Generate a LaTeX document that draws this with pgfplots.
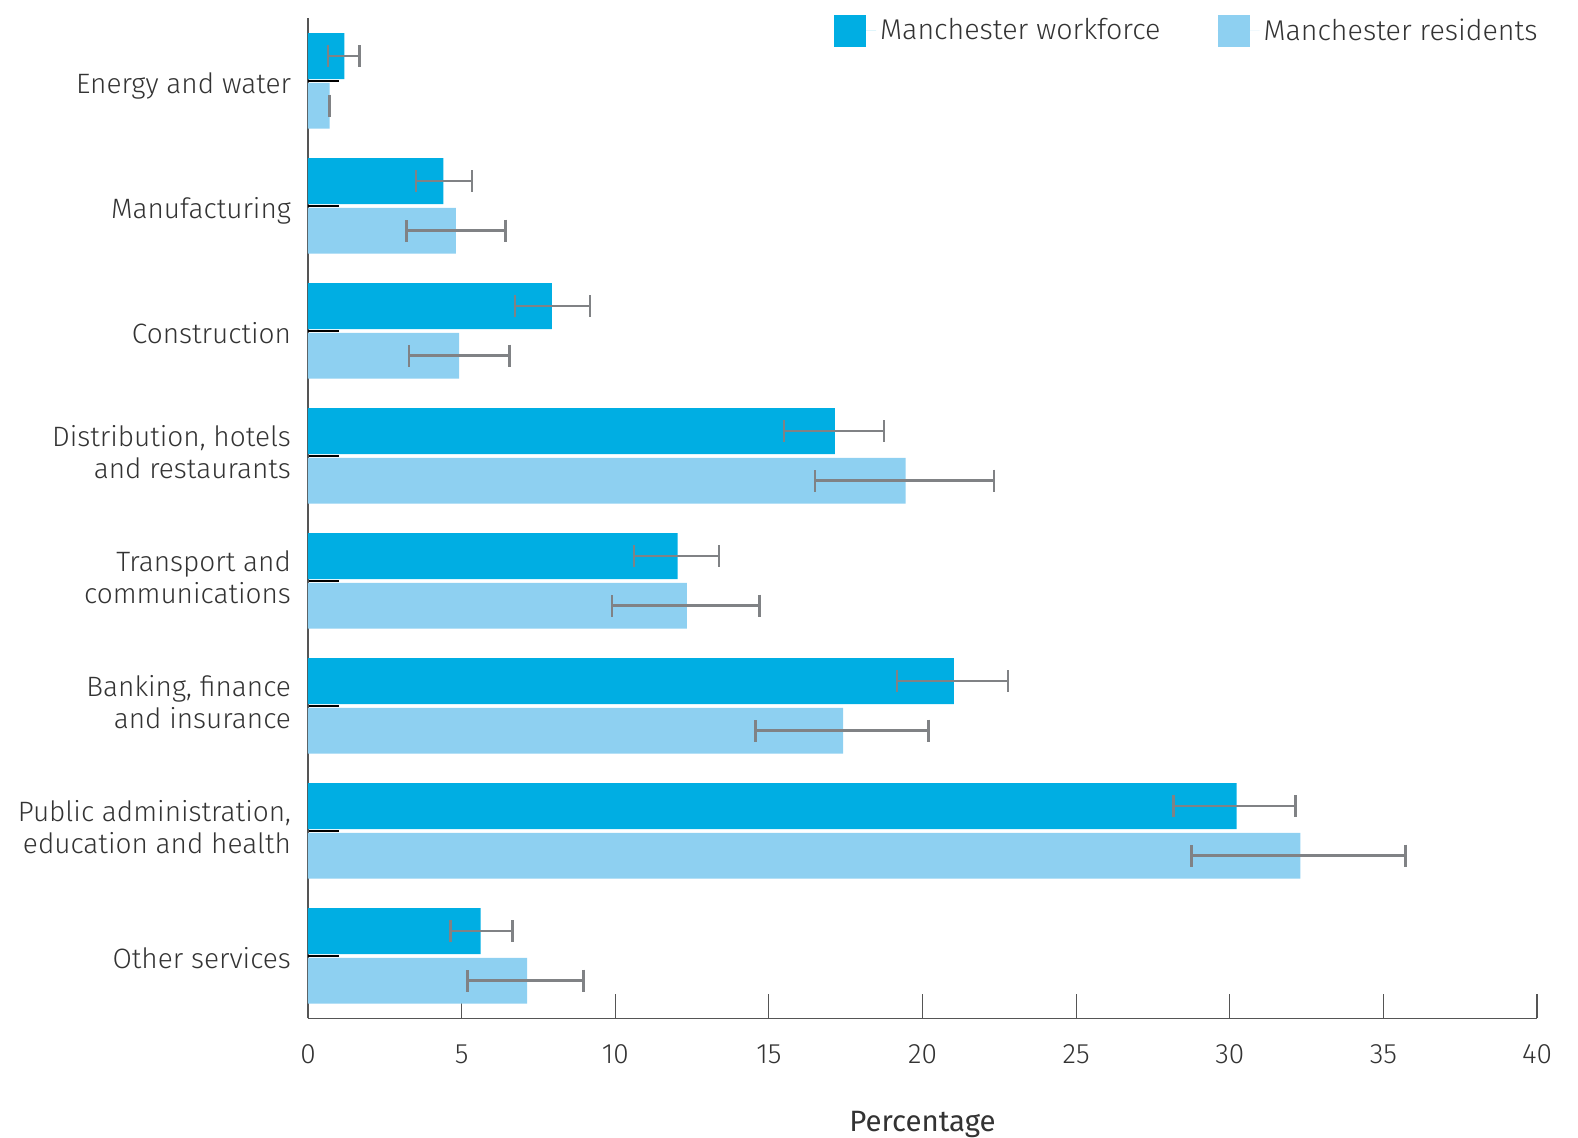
\documentclass[border=0pt]{standalone}
\usepackage{pgfplots}
\usepackage{pgfplotstable}
\pgfplotsset{compat=1.18}
\usepackage{fontspec}
\setmainfont{Fira Sans}[UprightFont=* Light]
\newfontfamily\regfont{Fira Sans}
\definecolor{work}{RGB}{0,174,227}
\definecolor{resi}{RGB}{142,208,241}
\definecolor{errc}{RGB}{128,130,133}
\definecolor{axc}{RGB}{85,85,85}
\definecolor{txt}{RGB}{51,51,51}
\pgfplotstableread{
x y em ep
1.18 0 0.52 0.50
4.41 1 0.90 0.92
7.94 2 1.20 1.24
17.15 3 1.66 1.60
12.03 4 1.42 1.34
21.02 5 1.85 1.76
30.22 6 2.05 1.92
5.62 7 0.98 1.03
}\work
\pgfplotstableread{
x y em ep
0.70 0 0.01 0.01
4.81 1 1.60 1.62
4.92 2 1.64 1.64
19.45 3 2.94 2.87
12.33 4 2.44 2.36
17.42 5 2.86 2.78
32.30 6 3.55 3.42
7.13 7 1.94 1.84
}\resi
\begin{document}
\begin{tikzpicture}
\useasboundingbox (-154pt,-59.3pt) rectangle (635pt,509.2pt);
\begin{axis}[
  at={(0,0)}, anchor=south west,
  scale only axis, width=614.5pt, height=500pt,
  xmin=0, xmax=40, ymin=-0.5, ymax=7.5, y dir=reverse,
  axis x line*=bottom, axis y line*=left,
  axis line style={axc, line width=0.75pt},
  xtick={0,5,...,40},
  ytick={3,4,5,6},
  yticklabels={{Distribution, hotels\\and restaurants}, {Transport and\\communications}, {Banking, finance\\and insurance}, {Public administration,\\education and health}},
  extra y ticks={0,1,2,7},
  extra y tick labels={Energy and water, Manufacturing, Construction, Other services},
  extra y tick style={yticklabel style={anchor=base east, yshift=-8.2pt}},
  tick align=inside,
  xtick style={axc, line width=0.6pt, /pgfplots/major tick length=12pt},
  ytick style={black, line width=0.8pt, /pgfplots/major tick length=15.5pt},
  /pgf/number format/assume math mode=true,
  ticklabel style={font=\fontsize{14}{16}\selectfont, text=txt},
  yticklabel style={align=right, anchor=east, xshift=-5pt, yshift=2pt},
  xticklabel style={yshift=-9.5pt},
  xlabel={\regfont Percentage},
  xlabel style={font=\fontsize{14.7}{16}\selectfont, text=txt, yshift=-17pt},
  legend style={at={(1,1)}, anchor=east, xshift=2.5pt, yshift=-6.2pt, draw=none, fill=none, inner sep=0pt,
    legend columns=2, font=\fontsize{14.3}{16}\selectfont, text=txt,
    /tikz/every even column/.append style={column sep=26.5pt}},
  legend cell align=left,
  legend image code/.code={\path[#1, draw=none] (0pt,-8pt) rectangle (16pt,8pt); \path (0pt,0pt) -- (21pt,0pt);},
]
\addplot[xbar, bar width=22.9pt, bar shift=0pt, fill=work, draw=none,
  error bars/.cd, x dir=both, x explicit,
  error bar style={errc, line width=1.3pt},
  error mark options={rotate=90, errc, line width=1.2pt, mark size=5.5pt}]
  table[x=x, y expr=\thisrow{y}-0.1984, x error plus=ep, x error minus=em] {\work};
\addlegendentry{Manchester workforce}
\addplot[xbar, bar width=22.9pt, bar shift=0pt, fill=resi, draw=none,
  error bars/.cd, x dir=both, x explicit,
  error bar style={errc, line width=1.3pt},
  error mark options={rotate=90, errc, line width=1.2pt, mark size=5.5pt}]
  table[x=x, y expr=\thisrow{y}+0.1984, x error plus=ep, x error minus=em] {\resi};
\addlegendentry{Manchester residents}
\end{axis}
\end{tikzpicture}
\end{document}
